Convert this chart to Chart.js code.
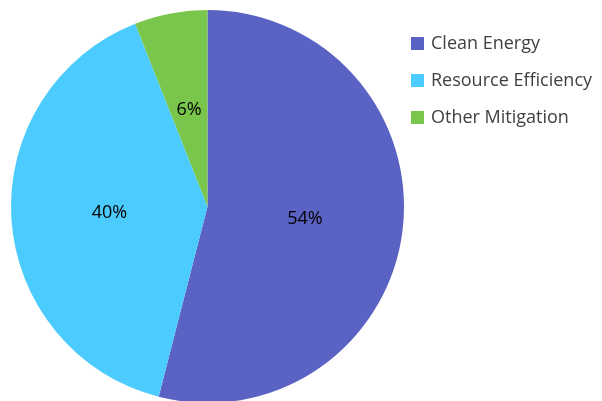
<!DOCTYPE html>
<html>
<head>
<meta charset="utf-8">
<script src="https://cdn.jsdelivr.net/npm/chart.js@4"></script>
<style>
  html, body { margin: 0; padding: 0; background: #fff; }
  #wrap { position: relative; width: 602px; height: 401px; overflow: hidden; }
  #legend { position: absolute; left: 411px; top: 29px; margin: 0; padding: 0; list-style: none;
    font-family: "Open Sans", "Liberation Sans", sans-serif; font-size: 18px; color: #404040; }
  #legend li { height: 37px; line-height: 26px; white-space: nowrap; }
  #legend span { display: inline-block; width: 13px; height: 13px; margin-right: 7px; vertical-align: -1px; }
</style>
</head>
<body>
<div id="wrap">
  <canvas id="pie" width="602" height="406"></canvas>
  <ul id="legend"></ul>
</div>
<script>
/* DATA */
const labels = ["Clean Energy", "Resource Efficiency", "Other Mitigation"];
const shares = [54, 40, 6];
const colors = ["#5A62C4", "#4CCBFE", "#7AC64D"];

/* LEGEND */
const legendEl = document.getElementById("legend");
legendEl.innerHTML = labels.map((l, i) =>
  `<li><span style="background:${colors[i]}"></span>${l}</li>`
).join("");

/* SLICE LABELS */
const sliceLabels = {
  id: "sliceLabels",
  afterDatasetsDraw(chart) {
    const ctx = chart.ctx;
    const meta = chart.getDatasetMeta(0);
    ctx.save();
    ctx.font = '18px "Open Sans", "Liberation Sans", sans-serif';
    ctx.fillStyle = "#000";
    ctx.textAlign = "center";
    ctx.textBaseline = "middle";
    meta.data.forEach((arc, i) => {
      const p = arc.tooltipPosition();
      ctx.fillText(shares[i] + "%", p.x, p.y);
    });
    ctx.restore();
  }
};

new Chart(document.getElementById("pie"), {
  type: "pie",
  data: {
    labels: labels,
    datasets: [{
      data: shares,
      backgroundColor: colors,
      borderWidth: 0
    }]
  },
  options: {
    responsive: false,
    animation: false,
    layout: { padding: { left: 11, right: 198, top: 10, bottom: 3 } },
    plugins: {
      legend: { display: false },
      tooltip: { enabled: false }
    }
  },
  plugins: [sliceLabels]
});
</script>
</body>
</html>
